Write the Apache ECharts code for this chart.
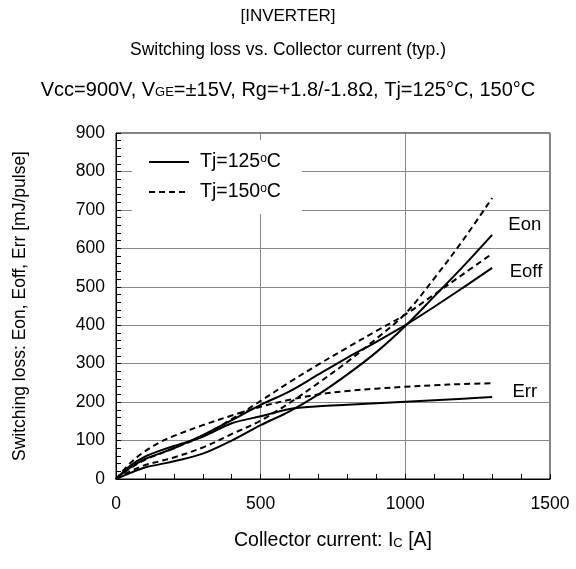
<!DOCTYPE html>
<html>
<head>
<meta charset="utf-8">
<script src="https://cdn.jsdelivr.net/npm/echarts@6/dist/echarts.min.js"></script>
<style>
html,body{margin:0;padding:0;background:#fff;}
#chart{width:576px;height:569px;}
</style>
</head>
<body>
<div id="chart"></div>
<script>
// Collector current [A]
var currents = [0, 50, 100, 150, 200, 300, 400, 500, 600, 700, 800, 900, 1000, 1100, 1200, 1300];
// Switching loss [mJ/pulse]
var eon125  = [0, 16, 30, 38, 46, 66, 100, 140, 176, 220, 272, 330, 398, 475, 553, 635];
var eon150  = [0, 20, 36, 46, 56, 82, 117, 152, 198, 250, 305, 365, 430, 522, 622, 731];
var eoff125 = [0, 30, 52, 66, 80, 114, 153, 193, 228, 272, 316, 357, 400, 448, 498, 549];
var eoff150 = [0, 28, 50, 65, 80, 112, 156, 203, 252, 298, 342, 385, 428, 480, 533, 586];
var err125  = [0, 35, 58, 73, 86, 110, 145, 163, 182, 189, 193, 197, 201, 205, 209, 213];
var err150  = [0, 42, 72, 95, 112, 140, 165, 188, 206, 220, 229, 235, 240, 244, 247, 249];
var legendNames = ['Tj=125ºC', 'Tj=150ºC'];
var curveLabels = [
  {name: 'Eon',  at: [1413, 661]},
  {name: 'Eoff', at: [1417, 539]},
  {name: 'Err',  at: [1413, 227]}
];

function pairs(ys){ return currents.map(function(x,i){ return [x, ys[i]]; }); }

var FONT = '"Liberation Sans", Arial, sans-serif';
var chart = echarts.init(document.getElementById('chart'));

function mkSeries(name, ys, dashed, extra){
  var s = {
    type: 'line', name: name, data: pairs(ys), smooth: 0.35,
    symbol: 'none', silent: true,
    lineStyle: {color: '#000', width: 2, type: dashed ? [6,4] : 'solid'},
    itemStyle: {color: '#000'},
    z: 3
  };
  if (extra) {
    s.markPoint = {
      symbol: 'circle', symbolSize: 0, silent: true,
      label: {show: true, position: 'inside', color: '#000', fontSize: 18.5, fontFamily: FONT,
        formatter: function(p){ return p.name; }},
      data: extra.map(function(c){ return {name: c.name, coord: c.at}; })
    };
  }
  return s;
}

chart.setOption({
  animation: false,
  backgroundColor: '#fff',
  textStyle: {fontFamily: FONT},
  title: [
    {text: '[INVERTER]', left: 'center', top: 3,
     textStyle: {fontSize: 17, fontWeight: 'normal', color: '#000', fontFamily: FONT}},
    {text: 'Switching loss vs. Collector current (typ.)', left: 'center', top: 36,
     textStyle: {fontSize: 17.5, fontWeight: 'normal', color: '#000', fontFamily: FONT}},
    {text: 'Vcc=900V, V{s|GE}=±15V, Rg=+1.8/-1.8Ω, Tj=125°C, 150°C', left: 'center', top: 75,
     textStyle: {fontSize: 20, fontWeight: 'normal', color: '#000', fontFamily: FONT,
       rich: {s: {fontSize: 13, color: '#000', fontFamily: FONT, padding: [5,0,0,0]}}}}
  ],
  legend: {
    data: legendNames,
    orient: 'vertical',
    left: 132, top: 140,
    padding: [12, 21, 12, 16],
    backgroundColor: '#fff',
    itemWidth: 40, itemHeight: 12, itemGap: 10,
    selectedMode: false,
    itemStyle: {color: 'transparent', borderWidth: 0, opacity: 0},
    formatter: function(n){ return n.replace('º', '{o|o}'); },
    textStyle: {fontSize: 19.5, color: '#000', fontFamily: FONT, padding: [0,0,0,6],
      rich: {o: {fontSize: 12, color: '#000', fontFamily: FONT, padding: [0,0,7,0]}}}
  },
  grid: {left: 116, right: 26, top: 133, bottom: 90, show: true, borderColor: '#000', borderWidth: 1, backgroundColor: 'transparent'},
  xAxis: {
    type: 'value', min: 0, max: 1500, interval: 500,
    name: 'Collector current: I{s|C} [A]', nameLocation: 'middle', nameGap: 52,
    nameTextStyle: {fontSize: 19.5, color: '#000', fontFamily: FONT,
      rich: {s: {fontSize: 13, color: '#000', fontFamily: FONT, padding: [5,0,0,0]}}},
    axisLine: {lineStyle: {color: '#000', width: 1}},
    axisTick: {show: true, inside: true, length: 5, lineStyle: {color: '#000'}},
    minorTick: {show: true, splitNumber: 5, length: 5, lineStyle: {color: '#000'}},
    axisLabel: {fontSize: 17.5, color: '#000', margin: 16, fontFamily: FONT,
      formatter: function(v){ return String(v); }},
    splitLine: {show: true, lineStyle: {color: '#888', width: 1}}
  },
  yAxis: {
    type: 'value', min: 0, max: 900, interval: 100,
    name: 'Switching loss: Eon, Eoff, Err [mJ/pulse]', nameLocation: 'middle', nameGap: 87,
    nameTextStyle: {fontSize: 17.5, color: '#000', fontFamily: FONT},
    axisLine: {lineStyle: {color: '#000', width: 1}},
    axisTick: {show: true, inside: true, length: 5, lineStyle: {color: '#000'}},
    minorTick: {show: true, splitNumber: 5, length: 5, lineStyle: {color: '#000'}},
    axisLabel: {fontSize: 17.5, color: '#000', margin: 11, fontFamily: FONT,
      formatter: function(v){ return String(v); }},
    splitLine: {show: true, lineStyle: {color: '#888', width: 1}}
  },
  series: [
    mkSeries(legendNames[0], eon125, false, curveLabels),
    mkSeries(legendNames[0], eoff125, false),
    mkSeries(legendNames[0], err125, false),
    mkSeries(legendNames[1], eon150, true),
    mkSeries(legendNames[1], eoff150, true),
    mkSeries(legendNames[1], err150, true)
  ]
});
</script>
</body>
</html>
